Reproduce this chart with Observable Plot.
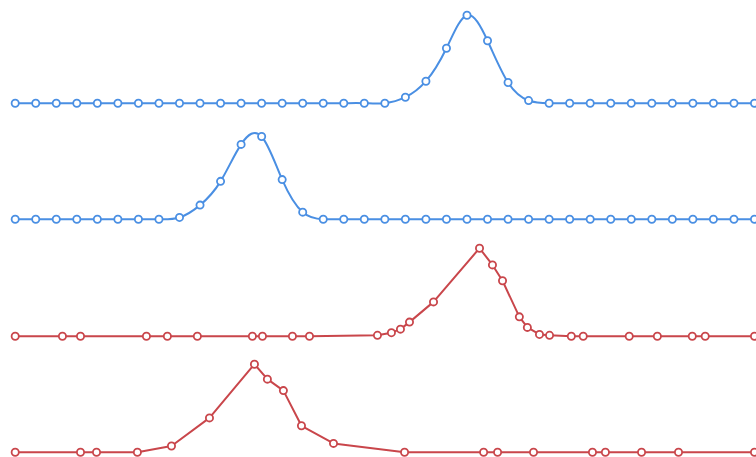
<!DOCTYPE html>
<html>
<head>
<meta charset="utf-8">
<script src="https://cdn.jsdelivr.net/npm/d3@7"></script>
<script src="https://cdn.jsdelivr.net/npm/@observablehq/plot@0.6"></script>
<style>
  html, body { margin: 0; padding: 0; background: #fff; overflow: hidden; }
  #chart svg { display: block; overflow: visible; }
</style>
</head>
<body>
<div id="chart"></div>
<script>
// Blue series: evenly spaced samples (index 0..36)
const blueA = [0,0,0,0,0,0,0,0,0,0,0,0,0,0,0,0,0,0,0,0.068,0.25,0.625,1,0.71,0.235,0.03,0,0,0,0,0,0,0,0,0,0,0];
const blueB = [0,0,0,0,0,0,0,0,0.02,0.16,0.43,0.85,0.94,0.45,0.08,0,0,0,0,0,0,0,0,0,0,0,0,0,0,0,0,0,0,0,0,0,0];

// Red series: irregular sample positions
const redAx = [0,2.30,3.18,6.39,7.41,8.87,11.55,12.04,13.50,14.33,17.64,18.32,18.76,19.20,20.37,22.61,23.24,23.73,24.55,24.94,25.53,26.02,27.08,27.66,29.90,31.27,32.97,33.60,36];
const redAy = [0,0,0,0,0,0,0,0,0,0,0.01,0.04,0.08,0.16,0.39,1,0.81,0.63,0.22,0.10,0.02,0.01,0,0,0,0,0,0,0];
const redBx = [0,3.18,3.96,5.95,7.61,9.46,11.65,12.28,13.06,13.94,15.50,18.96,22.81,23.49,25.24,28.11,28.74,30.50,32.30,36];
const redBy = [0,0,0,0,0.07,0.39,1,0.83,0.70,0.30,0.10,0,0,0,0,0,0,0,0,0];

const blue = "#4a8fe3";
const red = "#c9464b";

const rows = [
  {data: blueA.map((v, i) => ({x: i, y: v})), color: blue, curve: "natural"},
  {data: blueB.map((v, i) => ({x: i, y: v})), color: blue, curve: "natural"},
  {data: redAx.map((x, i) => ({x, y: redAy[i]})), color: red, curve: "linear"},
  {data: redBx.map((x, i) => ({x, y: redBy[i]})), color: red, curve: "linear"}
];

const chart = document.getElementById("chart");
for (const row of rows) {
  const p = Plot.plot({
    width: 756,
    height: 116.33,
    marginLeft: 14.7,
    marginRight: 2,
    marginTop: 14.7,
    marginBottom: 13.63,
    x: {domain: [0, 36], axis: null},
    y: {domain: [0, 1], axis: null},
    marks: [
      Plot.line(row.data, {x: "x", y: "y", stroke: row.color, strokeWidth: 2, curve: row.curve}),
      Plot.dot(row.data, {x: "x", y: "y", r: 3.6, fill: "white", stroke: row.color, strokeWidth: 1.8})
    ]
  });
  chart.appendChild(p);
}
</script>
</body>
</html>
